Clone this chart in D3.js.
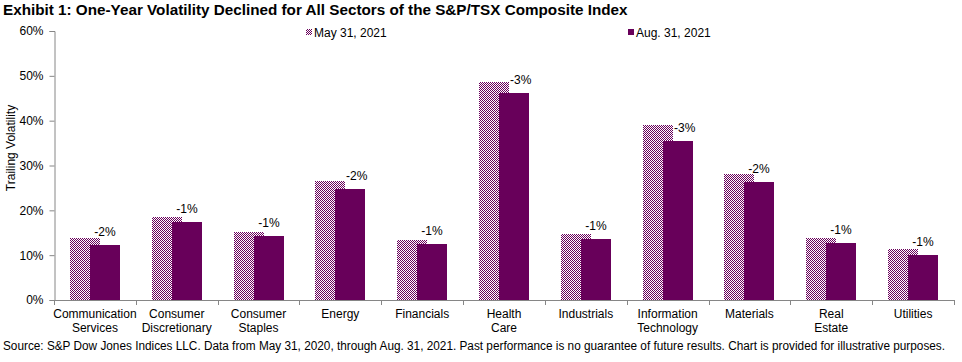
<!DOCTYPE html>
<html>
<head>
<meta charset="utf-8">
<script src="https://cdn.jsdelivr.net/npm/d3@7"></script>
<style>
  body { margin: 0; background: #fff; }
  svg { display: block; font-family: "Liberation Sans", Arial, sans-serif; }
  .axis path, .axis line { stroke: #868686; }
  .axis text { font-size: 12px; fill: #000; }
  rect { shape-rendering: crispEdges; }
</style>
</head>
<body>
<svg width="962" height="362"></svg>
<script>
// chart data
const sectors = [
  "Communication Services", "Consumer Discretionary", "Consumer Staples", "Energy",
  "Financials", "Health Care", "Industrials", "Information Technology",
  "Materials", "Real Estate", "Utilities"
];
const sectorLines = [
  ["Communication", "Services"], ["Consumer", "Discretionary"], ["Consumer", "Staples"],
  ["Energy"], ["Financials"], ["Health", "Care"], ["Industrials"],
  ["Information", "Technology"], ["Materials"], ["Real", "Estate"], ["Utilities"]
];
const may2021 = [13.8, 18.6, 15.2, 26.6, 13.4, 48.6, 14.7, 39.0, 28.0, 13.8, 11.4];
const aug2021 = [12.3, 17.4, 14.3, 24.8, 12.5, 46.1, 13.6, 35.5, 26.3, 12.7, 10.0];
const changeLabels = ["-2%", "-1%", "-1%", "-2%", "-1%", "-3%", "-1%", "-3%", "-2%", "-1%", "-1%"];
const yTicks = [0, 10, 20, 30, 40, 50, 60];

const purple = "#68005a";
const svg = d3.select("svg");

// checker pattern for the May bars
const defs = svg.append("defs");
const pat = defs.append("pattern")
  .attr("id", "checker")
  .attr("patternUnits", "userSpaceOnUse")
  .attr("width", 2)
  .attr("height", 2);
pat.append("rect").attr("width", 2).attr("height", 2).attr("fill", "#fff");
pat.append("rect").attr("x", 0).attr("y", 0).attr("width", 1).attr("height", 1).attr("fill", purple);
pat.append("rect").attr("x", 1).attr("y", 1).attr("width", 1).attr("height", 1).attr("fill", purple);

// scales
const x = d3.scaleBand().domain(sectors).range([54, 954]).padding(0);
const y = d3.scaleLinear().domain([0, 60]).range([300, 31]);
const barW = 30;
const mid = d => Math.round(x(d) + x.bandwidth() / 2);

// title
svg.append("text")
  .attr("x", 3)
  .attr("y", 15)
  .attr("font-size", "15.25px")
  .attr("font-weight", "bold")
  .text("Exhibit 1: One-Year Volatility Declined for All Sectors of the S&P/TSX Composite Index");

// y axis
svg.append("g")
  .attr("class", "axis")
  .attr("transform", "translate(54.5,0)")
  .call(d3.axisLeft(y).tickValues(yTicks).tickSize(5).tickPadding(6).tickFormat(d => d + "%"));

svg.append("text")
  .attr("transform", "translate(15,148) rotate(-90)")
  .attr("text-anchor", "middle")
  .attr("font-size", "12px")
  .text("Trailing Volatility");

// x axis line and boundary ticks
const xAxis = svg.append("g").attr("class", "axis");
xAxis.append("line")
  .attr("x1", 54).attr("x2", 954)
  .attr("y1", y(0) + 0.5).attr("y2", y(0) + 0.5);
xAxis.selectAll(".bound")
  .data(sectors.concat(["end"]))
  .enter()
  .append("line")
  .attr("x1", (d, i) => Math.round(i < sectors.length ? x(d) : x.range()[1]) + 0.5)
  .attr("x2", (d, i) => Math.round(i < sectors.length ? x(d) : x.range()[1]) + 0.5)
  .attr("y1", y(0))
  .attr("y2", y(0) + 5);

// category labels
const catLabel = svg.selectAll(".cat")
  .data(sectors)
  .enter()
  .append("text")
  .attr("class", "cat")
  .attr("text-anchor", "middle")
  .attr("font-size", "12px");
catLabel.selectAll("tspan")
  .data((d, i) => sectorLines[i].map(t => ({ t: t, c: x(d) + x.bandwidth() / 2 })))
  .enter()
  .append("tspan")
  .attr("x", d => d.c)
  .attr("y", (d, i) => 318 + i * 14)
  .text(d => d.t);

// bars
svg.selectAll(".may")
  .data(may2021)
  .enter()
  .append("rect")
  .attr("x", (d, i) => mid(sectors[i]) - 25)
  .attr("y", d => Math.round(y(d)))
  .attr("width", barW)
  .attr("height", d => y(0) - Math.round(y(d)))
  .attr("fill", "url(#checker)");

svg.selectAll(".aug")
  .data(aug2021)
  .enter()
  .append("rect")
  .attr("x", (d, i) => mid(sectors[i]) - 5)
  .attr("y", d => Math.round(y(d)))
  .attr("width", barW)
  .attr("height", d => y(0) - Math.round(y(d)))
  .attr("fill", purple);

// change labels above the Aug bars, nudged right when they would hit the May bar
const bumps = (d, i) => y(d) - 8 > y(may2021[i]);
svg.selectAll(".chg")
  .data(aug2021)
  .enter()
  .append("text")
  .attr("font-size", "12px")
  .attr("x", (d, i) => bumps(d, i) ? mid(sectors[i]) + 6 : mid(sectors[i]) + 10)
  .attr("text-anchor", (d, i) => bumps(d, i) ? "start" : "middle")
  .attr("y", d => y(d) - 9)
  .text((d, i) => changeLabels[i]);

// legend
const legend = [
  { label: "May 31, 2021", fill: "url(#checker)", x: 306 },
  { label: "Aug. 31, 2021", fill: purple, x: 628 }
];
const lg = svg.selectAll(".lg")
  .data(legend)
  .enter()
  .append("g")
  .attr("transform", d => "translate(" + d.x + ",0)");
lg.append("rect")
  .attr("y", 29)
  .attr("width", 6)
  .attr("height", 6)
  .attr("fill", d => d.fill);
lg.append("text")
  .attr("x", 8)
  .attr("y", 37)
  .attr("font-size", "12px")
  .text(d => d.label);

// source note
svg.append("text")
  .attr("x", 3)
  .attr("y", 350)
  .attr("font-size", "12px")
  .attr("font-family", "'Liberation Sans Narrow', 'Liberation Sans', Arial, sans-serif")
  .attr("textLength", 942)
  .attr("lengthAdjust", "spacingAndGlyphs")
  .text("Source: S&P Dow Jones Indices LLC. Data from May 31, 2020, through Aug. 31, 2021. Past performance is no guarantee of future results. Chart is provided for illustrative purposes.");
</script>
</body>
</html>
